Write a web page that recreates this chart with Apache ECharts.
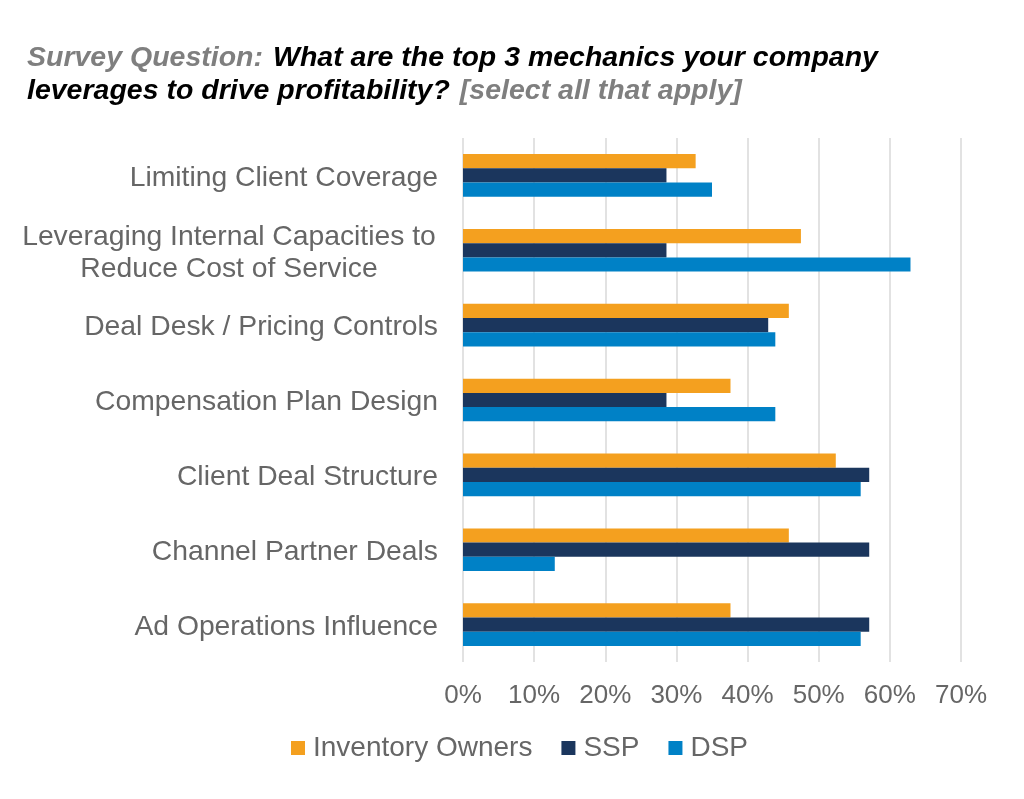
<!DOCTYPE html>
<html>
<head>
<meta charset="utf-8">
<script src="https://cdn.jsdelivr.net/npm/echarts@6/dist/echarts.min.js"></script>
<style>
html,body{margin:0;padding:0;background:#fff;}
#chart{width:1024px;height:799px;}
</style>
</head>
<body>
<div id="chart"></div>
<script>
const categories = [
  'Limiting Client Coverage',
  'Leveraging Internal Capacities to\nReduce Cost of Service',
  'Deal Desk / Pricing Controls',
  'Compensation Plan Design',
  'Client Deal Structure',
  'Channel Partner Deals',
  'Ad Operations Influence'
];
const inventoryOwners = [32.7, 47.5, 45.8, 37.6, 52.4, 45.8, 37.6];
const ssp = [28.6, 28.6, 42.9, 28.6, 57.1, 57.1, 57.1];
const dsp = [35.0, 62.9, 43.9, 43.9, 55.9, 12.9, 55.9];
const xTicks = [0, 10, 20, 30, 40, 50, 60, 70];

const chart = echarts.init(document.getElementById('chart'));
const font = 'Liberation Sans, Arial, sans-serif';
chart.setOption({
  backgroundColor: '#ffffff',
  title: {
    left: 22, top: 37,
    text: '{g|Survey Question:}  {b|What are the top 3 mechanics your company}\n{b|leverages to drive profitability?}  {g|[select all that apply]}',
    textStyle: {
      rich: {
        g: {color: '#7f7f7f', fontSize: 28.5, fontWeight: 'bold', fontStyle: 'italic', fontFamily: font, lineHeight: 33},
        b: {color: '#000000', fontSize: 28.5, fontWeight: 'bold', fontStyle: 'italic', fontFamily: font, lineHeight: 33}
      }
    }
  },
  legend: {
    bottom: 32, left: 286,
    itemWidth: 14, itemHeight: 14, itemGap: 29,
    icon: 'rect',
    textStyle: {color: '#666666', fontSize: 28, fontFamily: font, padding: [0, 0, 0, 3]},
    data: ['Inventory Owners', 'SSP', 'DSP']
  },
  grid: {left: 463, right: 63, top: 138, bottom: 137, containLabel: false},
  xAxis: {
    type: 'value', min: xTicks[0], max: xTicks[xTicks.length - 1], interval: 10,
    axisLine: {show: false}, axisTick: {show: false},
    axisLabel: {formatter: '{value}%', color: '#666666', fontSize: 26, fontFamily: font, margin: 21},
    splitLine: {lineStyle: {color: '#d9d9d9', width: 1.5}}
  },
  yAxis: {
    type: 'category', data: categories, inverse: true,
    axisLine: {show: false}, axisTick: {show: false},
    axisLabel: {
      color: '#666666', fontSize: 28.3, fontFamily: font, margin: 25, lineHeight: 32,
      padding: [5, 0, 0, 0],
      formatter: function (v) {
        if (v.indexOf('\n') >= 0) {
          return v.split('\n').map(function (s) { return '{c|' + s + '}'; }).join('\n');
        }
        return v;
      },
      rich: {c: {color: '#666666', fontSize: 28.3, fontFamily: font, width: 418, align: 'center', lineHeight: 32}}
    }
  },
  series: [
    {name: 'Inventory Owners', type: 'bar', data: inventoryOwners, itemStyle: {color: '#f4a01f'}, barGap: '0%', barCategoryGap: '43%'},
    {name: 'SSP', type: 'bar', data: ssp, itemStyle: {color: '#1b365d'}, barGap: '0%', barCategoryGap: '43%'},
    {name: 'DSP', type: 'bar', data: dsp, itemStyle: {color: '#0081c6'}, barGap: '0%', barCategoryGap: '43%'}
  ]
});
</script>
</body>
</html>
